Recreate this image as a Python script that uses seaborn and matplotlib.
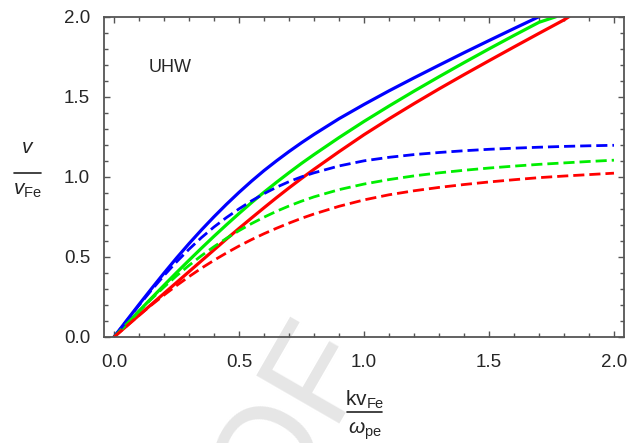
import numpy as np
import pandas as pd
import matplotlib
matplotlib.use('Agg')
import matplotlib.pyplot as plt
import seaborn as sns
from matplotlib.lines import Line2D
from matplotlib.ticker import MultipleLocator, FormatStrFormatter

# Values (x = k v_Fe / w_pe, y = v / v_Fe)
k_fine = [0, 0.05, 0.1, 0.15, 0.2, 0.25, 0.3, 0.35, 0.4, 0.45, 0.5, 0.55, 0.6, 0.65, 0.7, 0.75, 0.8]

k_blue_solid = k_fine + [0.9, 1.0, 1.1, 1.2, 1.3, 1.4, 1.5, 1.6, 1.7]
v_blue_solid = [0, 0.102, 0.203, 0.302, 0.399, 0.493, 0.583, 0.669, 0.751, 0.829, 0.903,
                0.973, 1.039, 1.100, 1.158, 1.213, 1.265,
                1.363, 1.452, 1.537, 1.618, 1.697, 1.775, 1.851, 1.926, 2.0]

k_green_solid = k_fine + [0.9, 1.0, 1.1, 1.2, 1.3, 1.4, 1.5, 1.6, 1.7, 1.768]
v_green_solid = [0, 0.081, 0.162, 0.243, 0.323, 0.402, 0.479, 0.555, 0.629, 0.701, 0.771,
                 0.839, 0.904, 0.966, 1.026, 1.084, 1.139,
                 1.245, 1.346, 1.442, 1.535, 1.625, 1.713, 1.799, 1.883, 1.965, 2.0]

k_red_solid = k_fine + [0.9, 1.0, 1.1, 1.2, 1.3, 1.4, 1.5, 1.6, 1.7, 1.8, 1.82]
v_red_solid = [0, 0.068, 0.136, 0.204, 0.272, 0.340, 0.408, 0.476, 0.544, 0.612, 0.678,
               0.743, 0.807, 0.870, 0.931, 0.990, 1.047,
               1.157, 1.263, 1.362, 1.457, 1.549, 1.638, 1.725, 1.811, 1.896, 1.980, 2.0]

k_dashed = k_fine + [0.9, 1.0, 1.1, 1.2, 1.3, 1.4, 1.5, 1.6, 1.7, 1.8, 1.9, 2.0]
v_blue_dashed = [0, 0.100, 0.198, 0.293, 0.384, 0.469, 0.548, 0.621, 0.687, 0.746, 0.800,
                 0.850, 0.895, 0.935, 0.970, 1.000, 1.025,
                 1.068, 1.100, 1.122, 1.139, 1.152, 1.163, 1.172, 1.179, 1.185, 1.190, 1.194, 1.197]
v_green_dashed = [0, 0.081, 0.161, 0.238, 0.312, 0.382, 0.447, 0.508, 0.564, 0.616, 0.664,
                  0.708, 0.748, 0.785, 0.818, 0.848, 0.875,
                  0.920, 0.955, 0.983, 1.006, 1.025, 1.041, 1.055, 1.067, 1.078, 1.087, 1.096, 1.104]
v_red_dashed = [0, 0.068, 0.135, 0.200, 0.262, 0.321, 0.377, 0.430, 0.479, 0.525, 0.568,
                0.608, 0.645, 0.679, 0.711, 0.741, 0.768,
                0.816, 0.856, 0.888, 0.913, 0.934, 0.952, 0.968, 0.982, 0.995, 1.005, 1.014, 1.023]

# Style
sns.set_style('ticks')
plt.rcParams['font.family'] = ['Liberation Sans', 'DejaVu Sans']
plt.rcParams['mathtext.fontset'] = 'custom'
plt.rcParams['mathtext.rm'] = 'Liberation Sans'
plt.rcParams['mathtext.it'] = 'Liberation Sans:italic'

curves = [
    (k_red_solid, v_red_solid, '#ff0000', '-'),
    (k_green_solid, v_green_solid, '#00ee00', '-'),
    (k_blue_solid, v_blue_solid, '#0000ff', '-'),
    (k_dashed, v_blue_dashed, '#0000ff', '--'),
    (k_dashed, v_green_dashed, '#00ee00', '--'),
    (k_dashed, v_red_dashed, '#ff0000', '--'),
]

fig = plt.figure(figsize=(6.32, 4.43), dpi=100, facecolor='w')
ax = fig.add_axes([0.1646, 0.2393, 0.8227, 0.723])
ax.set_facecolor('none')

for k, v, color, ls in curves:
    df = pd.DataFrame({'k': k, 'v': v})
    if ls == '-':
        sns.lineplot(ax=ax, data=df, x='k', y='v', color=color, linewidth=2.3,
                     sort=False, estimator=None)
    else:
        sns.lineplot(ax=ax, data=df, x='k', y='v', color=color, linewidth=2.0,
                     linestyle=(0, (4.0, 1.8)), sort=False, estimator=None)

ax.set_xlim(-0.04, 2.04)
ax.set_ylim(0, 2.0)
ax.xaxis.set_major_locator(MultipleLocator(0.5))
ax.yaxis.set_major_locator(MultipleLocator(0.5))
ax.xaxis.set_minor_locator(MultipleLocator(0.1))
ax.yaxis.set_minor_locator(MultipleLocator(0.1))
ax.xaxis.set_major_formatter(FormatStrFormatter('%.1f'))
ax.yaxis.set_major_formatter(FormatStrFormatter('%.1f'))
ax.tick_params(which='both', direction='in', top=True, right=True, color='#555555',
               labelsize=13.5, width=1.0)
ax.tick_params(which='major', length=4.5)
ax.tick_params(which='minor', length=2.6)
ax.tick_params(axis='x', which='major', pad=12)
ax.tick_params(axis='y', which='major', pad=10)
for sp in ax.spines.values():
    sp.set_color('#555555')
    sp.set_linewidth(1.3)
ax.set_xlabel('')
ax.set_ylabel('')

ax.text(0.14, 1.68, 'UHW', fontsize=13, ha='left', va='center')

# y label as a fraction
fig.text(0.0435, 0.6546, r'$v$', fontsize=15, ha='center', va='baseline')
fig.add_artist(Line2D([0.0222, 0.0649], [0.6106, 0.6106], transform=fig.transFigure,
                      color='#222222', lw=1.2))
fig.text(0.0427, 0.5598, r'$v_{\mathrm{Fe}}$', fontsize=15, ha='center', va='baseline')

# x label as a fraction
fig.text(0.5767, 0.0840, r'$\mathrm{kv}_{\mathrm{Fe}}$', fontsize=15, ha='center', va='baseline')
fig.add_artist(Line2D([0.549, 0.604], [0.0700, 0.0700], transform=fig.transFigure,
                      color='#222222', lw=1.2))
fig.text(0.5767, 0.020, r'$\omega_{\mathrm{pe}}$', fontsize=15, ha='center', va='baseline')

# watermark
fig.text(0.344, -0.229, 'PROOF', fontsize=100, color='#e6e6e6', rotation=60,
         ha='center', va='center', rotation_mode='anchor', zorder=-1)

fig.savefig('out.png', dpi=100)
